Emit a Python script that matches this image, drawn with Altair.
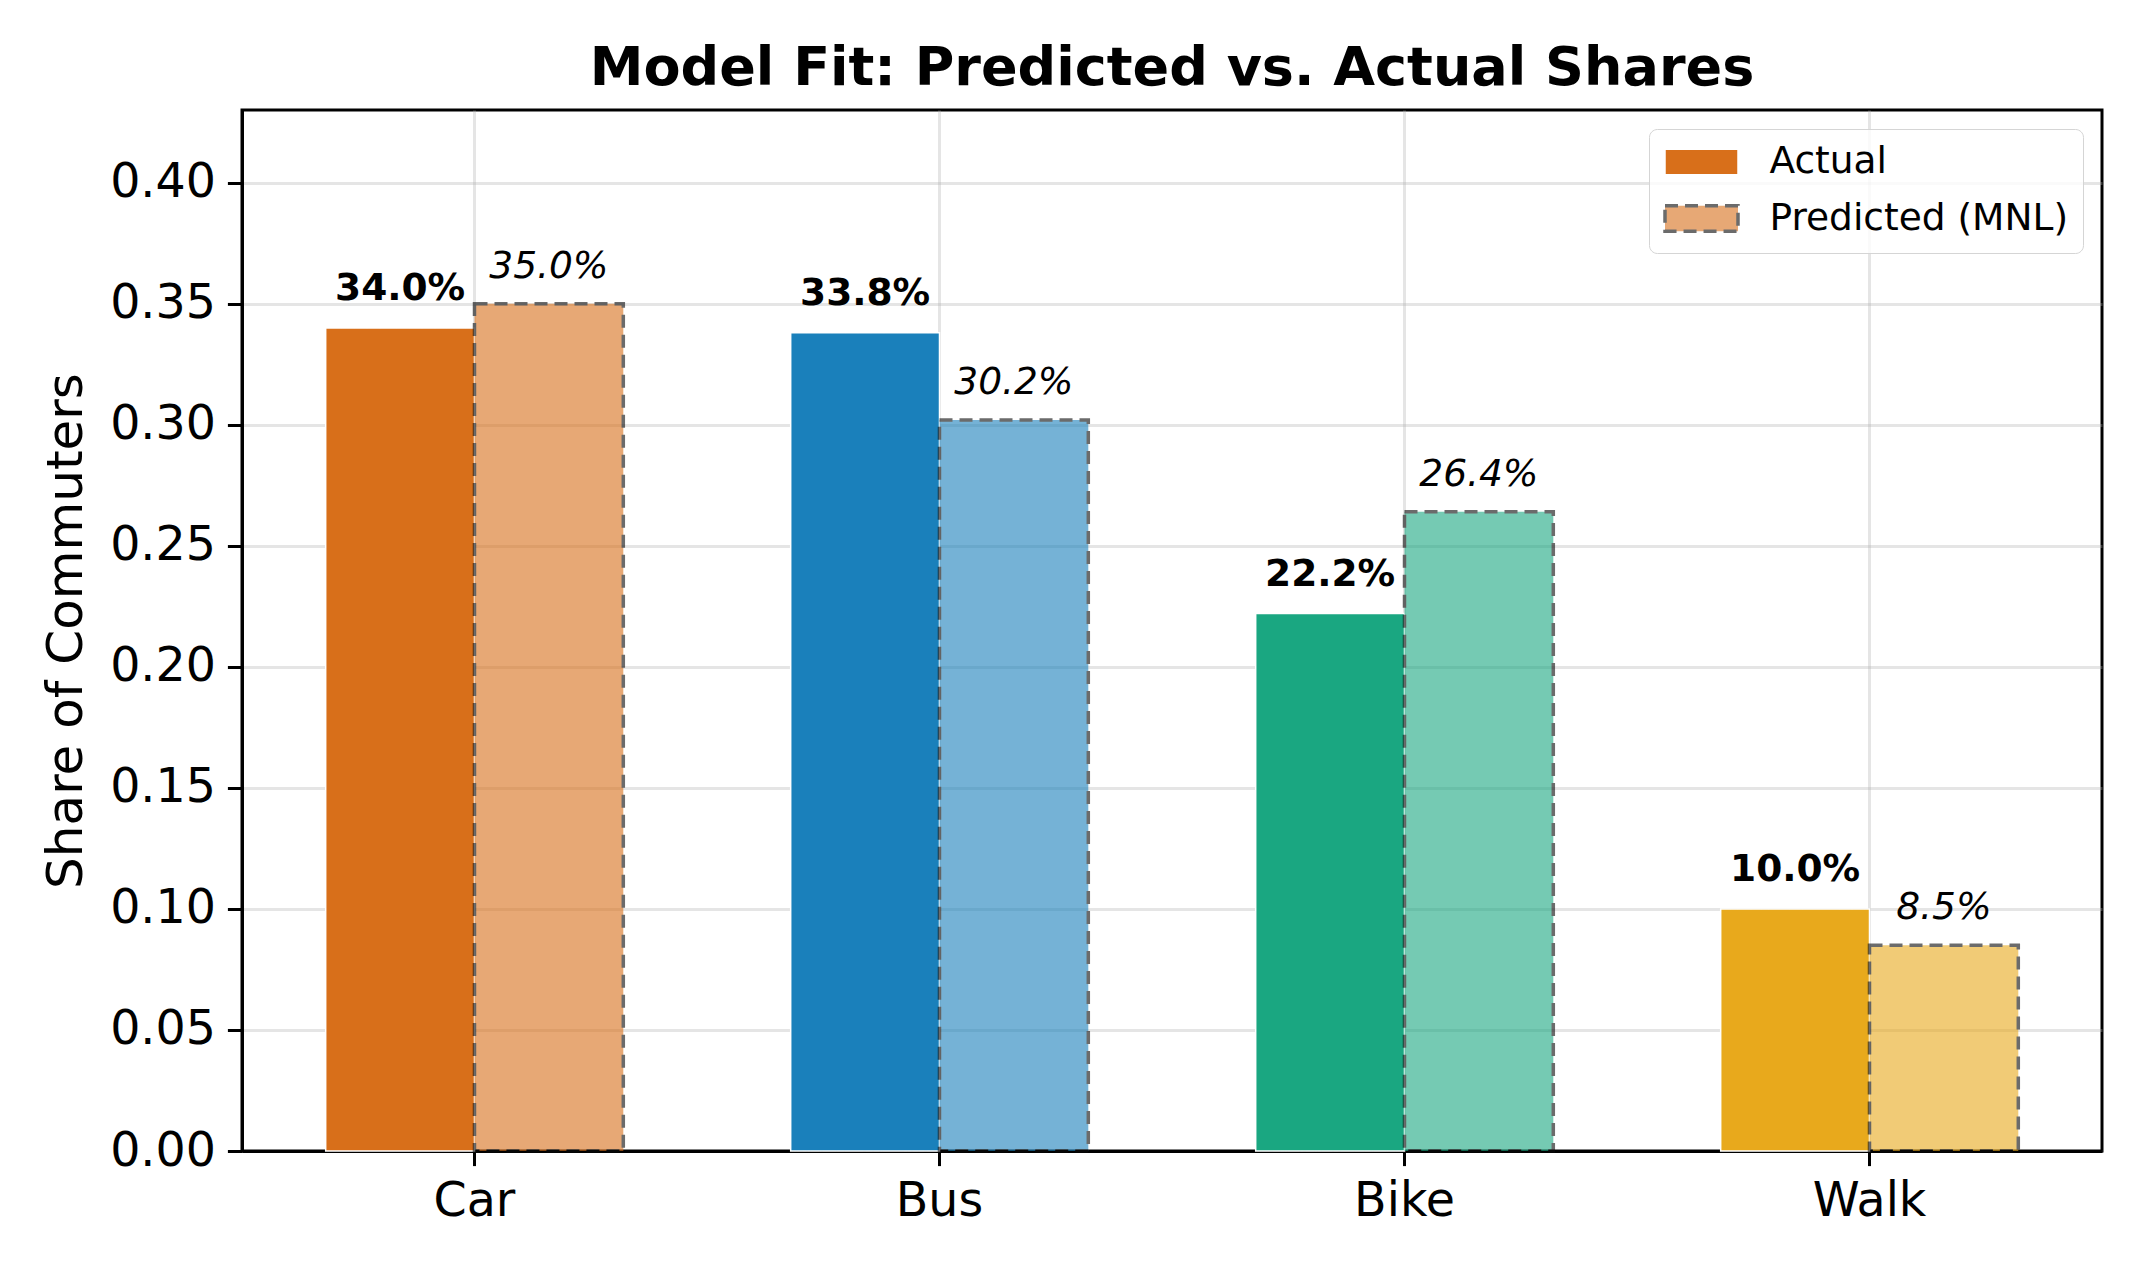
import altair as alt
import pandas as pd

modes = ["Car", "Bus", "Bike", "Walk"]
actual = [0.340, 0.338, 0.222, 0.100]
predicted = [0.350, 0.302, 0.264, 0.085]
mode_colors = ["#D86F1A", "#1A80BB", "#1AA781", "#E8A91C"]
types = ["Actual", "Predicted (MNL)"]
y_ticks = [0.0, 0.05, 0.10, 0.15, 0.20, 0.25, 0.30, 0.35, 0.40]

rows = []
for m, a, p, c in zip(modes, actual, predicted, mode_colors):
    rows.append({"mode": m, "type": types[0], "value": a, "color": c, "label": f"{a*100:.1f}%"})
    rows.append({"mode": m, "type": types[1], "value": p, "color": c, "label": f"{p*100:.1f}%"})
df = pd.DataFrame(rows)

FONT = "DejaVu Sans"

x_enc = alt.X(
    "mode:N",
    sort=modes,
    scale=alt.Scale(paddingInner=0.36, paddingOuter=0.18),
    axis=alt.Axis(title=None, labelAngle=0, bandPosition=0.5),
)
xoff_enc = alt.XOffset("type:N", scale=alt.Scale(domain=types, paddingInner=0, paddingOuter=0))
y_enc = alt.Y(
    "value:Q",
    scale=alt.Scale(domain=[0, 0.43], nice=False, zero=True),
    axis=alt.Axis(title="Share of Commuters", values=y_ticks, format=".2f"),
)

bars = alt.Chart(df).mark_bar(color="#D86F1A").encode(
    x=x_enc,
    xOffset=xoff_enc,
    y=y_enc,
    fill=alt.Fill("color:N", scale=None),
    opacity=alt.Opacity("type:N", scale=alt.Scale(domain=types, range=[1.0, 0.6]), title=None),
    stroke=alt.Stroke("type:N", scale=alt.Scale(domain=types, range=["#ffffff", "#0a0a0a"]), title=None),
    strokeDash=alt.StrokeDash("type:N", scale=alt.Scale(domain=types, range=[[1, 0], [13, 7]]), title=None),
    strokeWidth=alt.StrokeWidth("type:N", scale=alt.Scale(domain=types, range=[1.5, 3.5]), title=None),
)

text_actual = alt.Chart(df).transform_filter(
    alt.datum.type == types[0]
).mark_text(
    font=FONT, fontSize=37.5, fontWeight="bold", baseline="alphabetic", align="center", dy=-28, color="black"
).encode(x=x_enc, xOffset=xoff_enc, y=y_enc, text="label:N")

text_pred = alt.Chart(df).transform_filter(
    alt.datum.type == types[1]
).mark_text(
    font=FONT, fontSize=37.5, fontStyle="italic", baseline="alphabetic", align="center", dy=-26, color="black"
).encode(x=x_enc, xOffset=xoff_enc, y=y_enc, text="label:N")

chart = alt.layer(bars, text_actual, text_pred).properties(
    width=1860,
    height=1041,
    autosize=alt.AutoSizeParams(type="none"),
    padding={"left": 234, "top": 102, "right": 36, "bottom": 110},
    title=alt.TitleParams(
        "Model Fit: Predicted vs. Actual Shares",
        font=FONT, fontSize=54, fontWeight="bold", anchor="middle", baseline="alphabetic", offset=-29, color="black",
    ),
).configure_view(
    stroke="black", strokeWidth=3
).configure_axis(
    labelFont=FONT, labelFontSize=47.5, labelColor="black",
    titleFont=FONT, titleFontSize=50, titleFontWeight="normal", titleColor="black",
    tickSize=14.6, tickWidth=3, tickColor="black", labelPadding=12,
    domain=True, domainColor="black", domainWidth=3,
    grid=True, gridColor="#b0b0b0", gridOpacity=0.33, gridWidth=3,
    zindex=1,
).configure_axisY(
    titlePadding=18,
).configure_legend(
    orient="top-right", offset=19, padding=14,
    labelFont=FONT, labelFontSize=37.5, labelColor="black", labelOffset=48, labelLimit=0,
    symbolType="M-2,-0.7H2V0.7H-2Z", symbolSize=1332, symbolFillColor="#D86F1A",
    symbolOffset=18.5,
    rowPadding=17.5, strokeColor="#d5d5d5", fillColor="rgba(255,255,255,0.8)", cornerRadius=8,
)

chart.save("out.html", embed_options={"renderer": "svg", "actions": False})
